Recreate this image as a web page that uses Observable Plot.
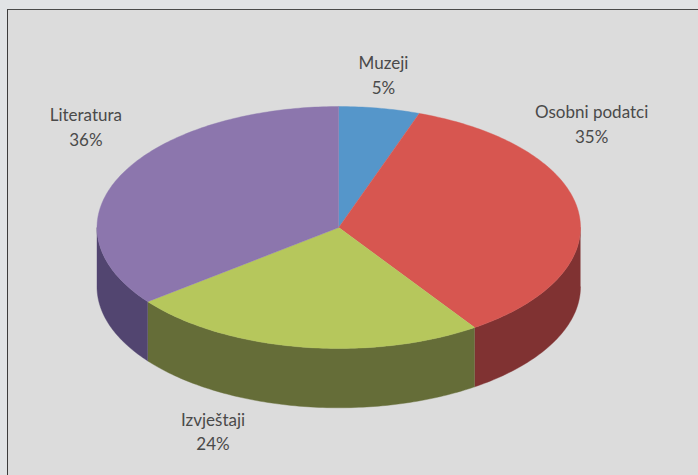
<!DOCTYPE html>
<html>
<head>
<meta charset="utf-8">
<script src="https://cdn.jsdelivr.net/npm/d3@7"></script>
<script src="https://cdn.jsdelivr.net/npm/@observablehq/plot@0.6"></script>
<style>
  html, body { margin: 0; padding: 0; background: #e1e3e5; }
  body { width: 698px; height: 475px; overflow: hidden; position: relative; }
  #panel { position: absolute; left: 7px; top: 9px; right: -10px; bottom: -10px; background: #dcdcdc;
           border-left: 1.5px solid #3c3c3c; border-top: 1.5px solid #4a4a4a; }
  #chart { position: absolute; left: 0; top: 0; }
  svg { background: transparent !important; display: block; }
</style>
</head>
<body>
<div id="panel"></div>
<div id="chart"></div>
<script>
const categories = ["Muzeji", "Osobni podatci", "Izvještaji", "Literatura"];
const shares = [5.4, 35.1, 24.0, 35.5];
const topColors = ["#5596ca", "#d75650", "#b6c75c", "#8c76ad"];
const sideColors = ["#3d6c93", "#803232", "#656d38", "#524570"];

// Layout of the tilted disc and its labels, in radius units
const depth = 0.49;
const labelAt = {
  "Muzeji": [0.185, -1.27],
  "Osobni podatci": [1.046, -0.866],
  "Izvještaji": [-0.52, 1.675],
  "Literatura": [-1.046, -0.84]
};

const total = d3.sum(shares);
const cum = d3.cumsum(shares);
const angle = (v) => (v / total) * 2 * Math.PI;

const topPts = [];
const sidePts = [];
categories.forEach((c, i) => {
  const a0 = angle(i ? cum[i - 1] : 0), a1 = angle(cum[i]);
  const n = Math.max(2, Math.ceil((a1 - a0) * 60));
  const arc = d3.range(n + 1).map((k) => a0 + (a1 - a0) * k / n);
  topPts.push({ key: c, x: 0, y: 0 });
  arc.forEach((a) => topPts.push({ key: c, x: Math.sin(a), y: -Math.cos(a) }));
  // the visible wall is the lower half of the rim only
  if (a1 > Math.PI / 2 && a0 < 3 * Math.PI / 2) {
    const front = arc.map((a) => Math.min(Math.max(a, Math.PI / 2), 3 * Math.PI / 2));
    front.forEach((a) => sidePts.push({ key: c, x: Math.sin(a), y: -Math.cos(a) }));
    front.slice().reverse().forEach((a) => sidePts.push({ key: c, x: Math.sin(a), y: -Math.cos(a) + depth }));
  }
});

const labels = categories.map((c, i) => ({
  text: `${c}\n${Math.round(shares[i])}%`,
  x: labelAt[c][0],
  y: labelAt[c][1]
}));

const sideFill = Object.fromEntries(categories.map((c, i) => [c, sideColors[i]]));
const topFill = Object.fromEntries(categories.map((c, i) => [c, topColors[i]]));

const plot = Plot.plot({
  width: 698,
  height: 475,
  margin: 0,
  x: { domain: [-1, 1], range: [96.5, 580], axis: null },
  y: { domain: [-1, 1], range: [106, 348], axis: null },
  marks: [
    Plot.line(sidePts, { x: "x", y: "y", z: "key", fill: (d) => sideFill[d.key], stroke: (d) => sideFill[d.key], strokeWidth: 0.4 }),
    Plot.line(topPts, { x: "x", y: "y", z: "key", fill: (d) => topFill[d.key], stroke: (d) => topFill[d.key], strokeWidth: 0.4 }),
    Plot.text(labels, { x: "x", y: "y", text: "text", fontFamily: "Lato", fontSize: 17, lineHeight: 1.45, fill: "#4a4a4a", textAnchor: "middle" })
  ],
  style: { background: "transparent" }
});
document.getElementById("chart").appendChild(plot);
</script>
</body>
</html>
